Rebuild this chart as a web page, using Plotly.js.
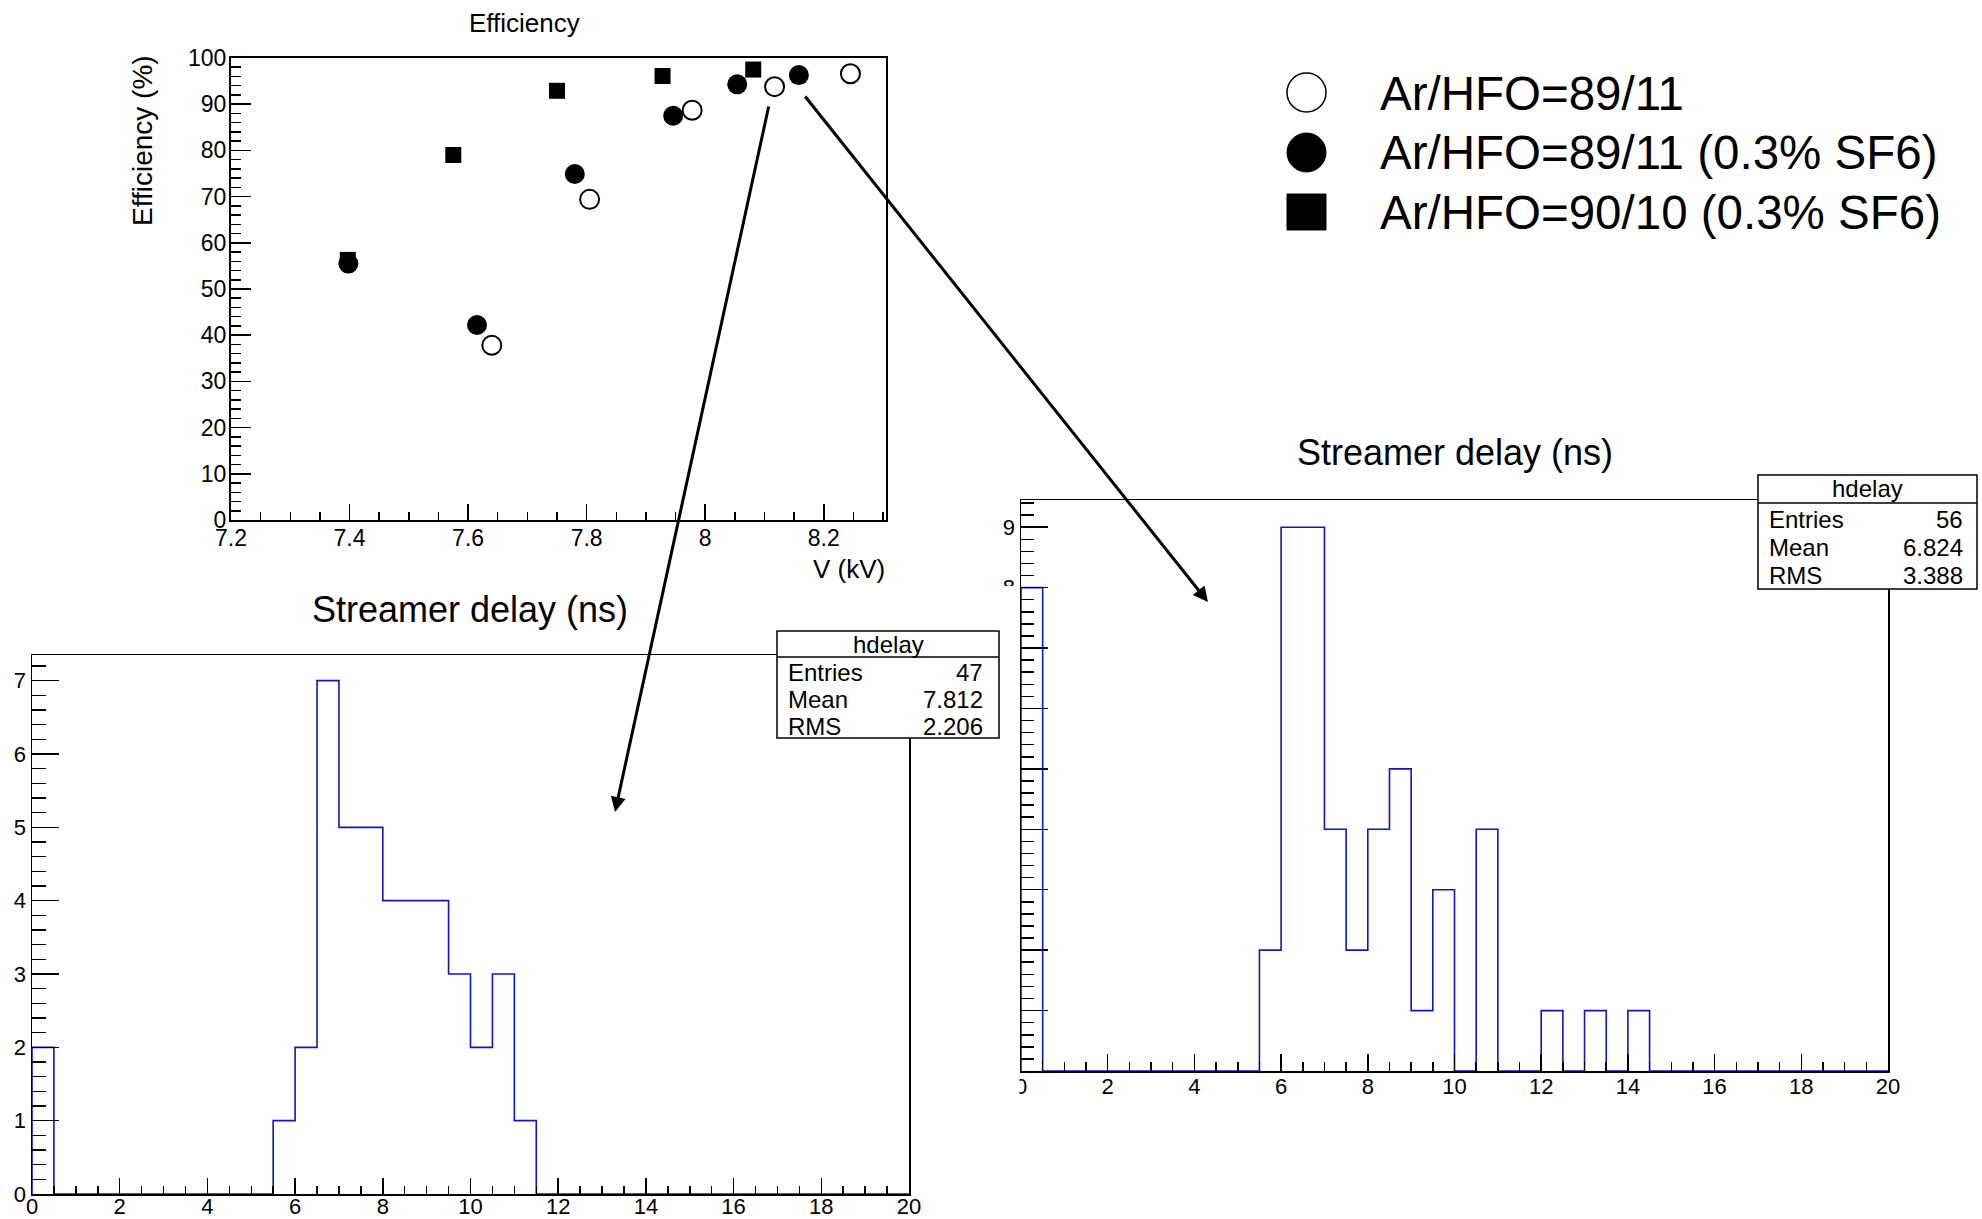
<!DOCTYPE html>
<html><head><meta charset="utf-8">
<script src="https://cdn.plot.ly/plotly-3.0.1.min.js"></script>
<style>html,body{margin:0;padding:0;background:#fff;} #chart{width:1982px;height:1219px;}</style>
</head><body><div id="chart"></div>
<script>
// ---------- data ----------
const openX   = [7.640, 7.805, 7.978, 8.117, 8.245];
const openY   = [37.8, 69.4, 88.7, 93.8, 96.6];
const filledX = [7.398, 7.615, 7.780, 7.946, 8.054, 8.158];
const filledY = [55.5, 42.2, 74.9, 87.5, 94.3, 96.3];
const squareX = [7.397, 7.575, 7.750, 7.928, 8.081];
const squareY = [56.3, 79.0, 92.9, 96.1, 97.5];

const binWidth = 0.5;
const hist1Counts = [2,0,0,0,0,0,0,0,0,0,0,1,2,7,5,5,4,4,4,3,2,3,1,0,0,0,0,0,0,0,0,0,0,0,0,0,0,0,0,0];
const hist2Counts = [8,0,0,0,0,0,0,0,0,0,0,2,9,9,4,2,4,5,1,3,0,4,0,0,1,0,1,0,1,0,0,0,0,0,0,0,0,0,0,0];

const statsName = 'hdelay';
const statsLabels = ['Entries', 'Mean', 'RMS'];
const stats1Values = ['47', '7.812', '2.206'];
const stats2Values = ['56', '6.824', '3.388'];

const legendLabels = ['Ar/HFO=89/11', 'Ar/HFO=89/11 (0.3% SF6)', 'Ar/HFO=90/10 (0.3% SF6)'];
const scatterTitle = 'Efficiency';
const scatterYTitle = 'Efficiency (%)';
const scatterXTitle = 'V (kV)';
const histTitle = 'Streamer delay (ns)';

// ---------- helpers ----------
const W = 1982, H = 1219;
const px = x => x / W;
const py = y => 1 - y / H;
const FONT = 'Liberation Sans, Arial, sans-serif';
const HCOL = '#1414c0';

function stepXY(counts) {
  const xs = [0], ys = [0];
  counts.forEach((c, i) => { xs.push(i * binWidth); ys.push(c); });
  xs.push(counts.length * binWidth); ys.push(0);
  return {xs, ys};
}
const s1 = stepXY(hist1Counts), s2 = stepXY(hist2Counts);

const traces = [
  {x: openX, y: openY, xaxis: 'x', yaxis: 'y', type: 'scatter', mode: 'markers', cliponaxis: false,
   marker: {symbol: 'circle-open', size: 19, color: '#000', line: {width: 2, color: '#000'}}},
  {x: filledX, y: filledY, xaxis: 'x', yaxis: 'y', type: 'scatter', mode: 'markers', cliponaxis: false,
   marker: {symbol: 'circle', size: 20, color: '#000'}},
  {x: squareX, y: squareY, xaxis: 'x', yaxis: 'y', type: 'scatter', mode: 'markers', cliponaxis: false,
   marker: {symbol: 'square', size: 16, color: '#000'}},
  {x: s1.xs, y: s1.ys, xaxis: 'x2', yaxis: 'y2', type: 'scatter', mode: 'lines',
   line: {shape: 'hv', color: HCOL, width: 1.6}},
  {x: s2.xs, y: s2.ys, xaxis: 'x3', yaxis: 'y3', type: 'scatter', mode: 'lines',
   line: {shape: 'hv', color: HCOL, width: 1.6}}
];

function axis(extra) {
  return Object.assign({
    showline: true, linecolor: '#000', mirror: true, showgrid: false, zeroline: false,
    ticks: 'inside', tickcolor: '#000', tickwidth: 1.5,
    tickfont: {family: FONT, size: 22, color: '#000'}, fixedrange: true
  }, extra);
}

const layout = {
  width: W, height: H, margin: {l: 0, r: 0, t: 0, b: 0},
  paper_bgcolor: '#fff', plot_bgcolor: '#fff', showlegend: false,
  font: {family: FONT, color: '#000'},
  xaxis: axis({domain: [px(231), px(886)], anchor: 'y', range: [7.2, 8.305], tick0: 7.2, dtick: 0.2,
    ticklen: 16, linewidth: 2, ticklabelstandoff: -4, tickfont: {family: FONT, size: 23, color: '#000'},
    minor: {ticks: 'inside', dtick: 0.05, ticklen: 8, tickwidth: 1.5, tickcolor: '#000'}}),
  yaxis: axis({domain: [py(520), py(58)], anchor: 'x', range: [0, 100], dtick: 10,
    ticklen: 20, linewidth: 2, ticklabelstandoff: -2, tickfont: {family: FONT, size: 23, color: '#000'},
    minor: {ticks: 'inside', dtick: 2, ticklen: 10, tickwidth: 1.5, tickcolor: '#000'}}),
  xaxis2: axis({domain: [px(32), px(909)], anchor: 'y2', range: [0, 20], dtick: 2, ticklen: 16, linewidth: 1.5,
    ticklabelstandoff: -8,
    minor: {ticks: 'inside', dtick: 0.5, ticklen: 8, tickwidth: 1.5, tickcolor: '#000'}}),
  yaxis2: axis({domain: [py(1194), py(655)], anchor: 'x2', range: [0, 7.35], dtick: 1, ticklen: 27, linewidth: 1.5,
    minor: {ticks: 'inside', dtick: 0.2, ticklen: 14, tickwidth: 1.5, tickcolor: '#000'}}),
  xaxis3: axis({domain: [px(1021), px(1888)], anchor: 'y3', range: [0, 20], dtick: 2, ticklen: 17, linewidth: 1.5,
    ticklabelstandoff: -5,
    minor: {ticks: 'inside', dtick: 0.5, ticklen: 9, tickwidth: 1.5, tickcolor: '#000'}}),
  yaxis3: axis({domain: [py(1071), py(500)], anchor: 'x3', range: [0, 9.45], dtick: 1, ticklen: 27, linewidth: 1.5,
    minor: {ticks: 'inside', dtick: 0.2, ticklen: 13, tickwidth: 1.5, tickcolor: '#000'}}),
  shapes: [],
  annotations: []
};

const S = layout.shapes, A = layout.annotations;
function txt(text, x, y, size, xanchor, extra) {
  A.push(Object.assign({text: text, xref: 'paper', yref: 'paper', x: px(x), y: py(y), showarrow: false,
    xanchor: xanchor || 'center', yanchor: 'middle', font: {family: FONT, size: size, color: '#000'},
    borderpad: 0}, extra || {}));
}

// titles
txt(scatterTitle, 524, 23, 26);
txt(scatterYTitle, 142, 141, 28, 'center', {textangle: -90});
txt(scatterXTitle, 886, 569, 26, 'right');
txt(histTitle, 470, 609, 36);
txt(histTitle, 1455, 452, 36);

// cover (right histogram labels hidden behind the left panel)
S.push({type: 'rect', xref: 'paper', yref: 'paper', x0: px(999.5), x1: px(1019.5), y0: py(1219), y1: py(586),
  fillcolor: '#fff', line: {width: 0}, layer: 'above'});

// stats boxes
function statsBox(x0, x1, y0, y1, sep, rows, hdrY, left, right, values) {
  S.push({type: 'rect', xref: 'paper', yref: 'paper', x0: px(x0), x1: px(x1), y0: py(y1), y1: py(y0),
    fillcolor: '#fff', line: {color: '#000', width: 1.5}, layer: 'above'});
  S.push({type: 'line', xref: 'paper', yref: 'paper', x0: px(x0), x1: px(x1), y0: py(sep), y1: py(sep),
    line: {color: '#000', width: 1.5}, layer: 'above'});
  txt(statsName, (x0 + x1) / 2, hdrY, 24);
  statsLabels.forEach((lab, i) => {
    txt(lab, left, rows[i], 24, 'left');
    txt(values[i], right, rows[i], 24, 'right');
  });
}
statsBox(777, 999, 631, 738, 657, [672, 699, 726], 644, 787, 984, stats1Values);
statsBox(1758, 1977, 475, 589, 503, [519, 547, 575], 489, 1768, 1964, stats2Values);

// legend
S.push({type: 'circle', xref: 'paper', yref: 'paper', x0: px(1287), x1: px(1326), y0: py(112), y1: py(73),
  fillcolor: 'rgba(0,0,0,0)', line: {color: '#000', width: 1.5}, layer: 'above'});
S.push({type: 'circle', xref: 'paper', yref: 'paper', x0: px(1287), x1: px(1326), y0: py(172), y1: py(133),
  fillcolor: '#000', line: {color: '#000', width: 1}, layer: 'above'});
S.push({type: 'rect', xref: 'paper', yref: 'paper', x0: px(1287), x1: px(1326), y0: py(230), y1: py(194),
  fillcolor: '#000', line: {color: '#000', width: 1}, layer: 'above'});
const legY = [93, 152, 212];
legendLabels.forEach((lab, i) => txt(lab, 1379, legY[i], 47.5, 'left'));

// arrows
function arrow(hx, hy, tx, ty) {
  A.push({text: '', xref: 'paper', yref: 'paper', x: px(hx), y: py(hy), ax: tx - hx, ay: ty - hy,
    axref: 'pixel', ayref: 'pixel', showarrow: true, arrowhead: 2, arrowsize: 1, arrowwidth: 3,
    arrowcolor: '#000', standoff: 0, startstandoff: 0});
}
arrow(615, 812, 769, 105);
arrow(1208, 602, 804, 95);

Plotly.newPlot('chart', traces, layout, {staticPlot: true});
</script>
</body></html>
